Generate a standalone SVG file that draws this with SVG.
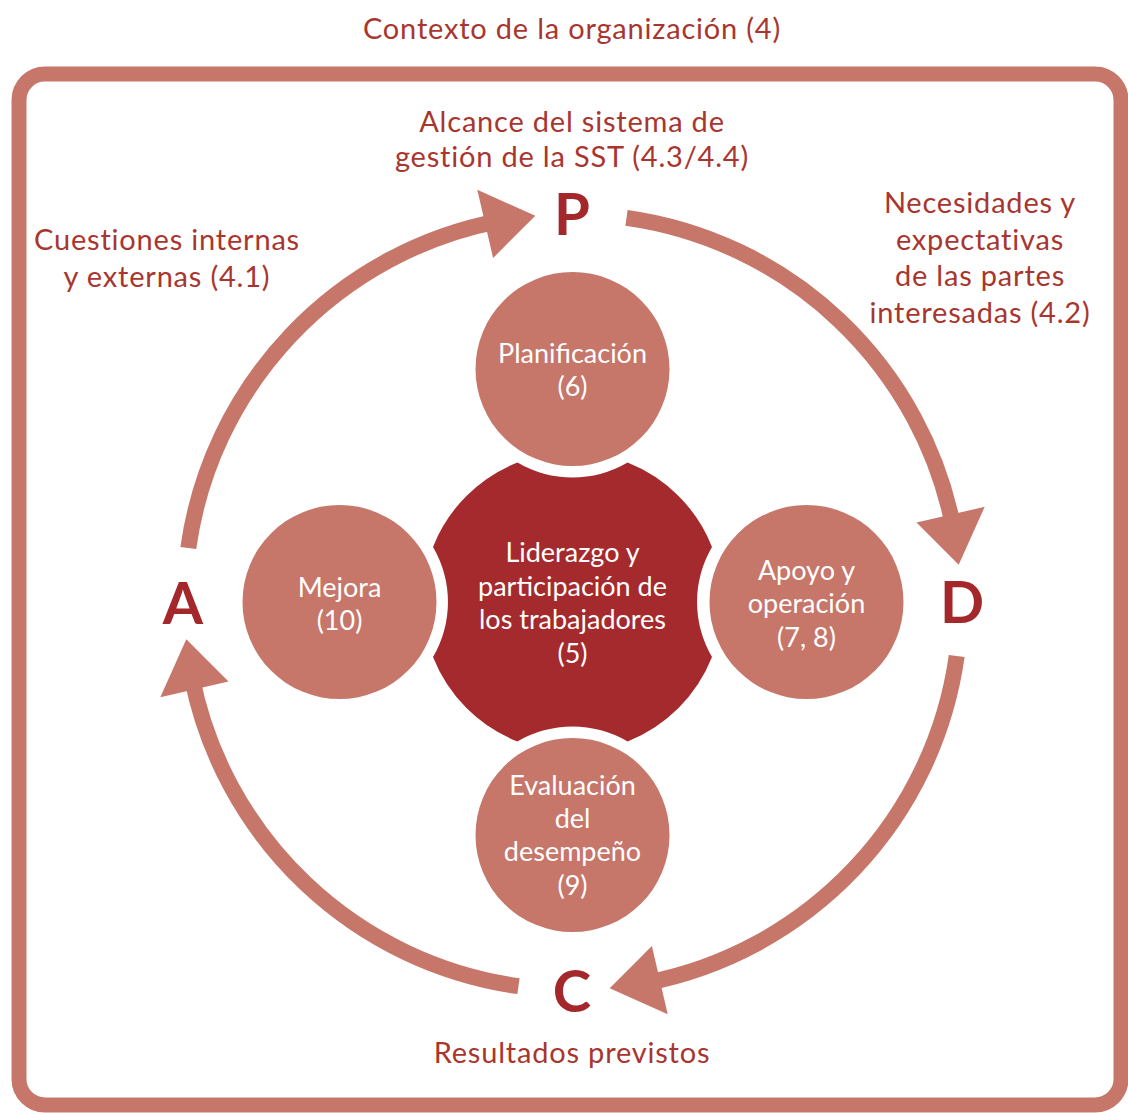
<svg xmlns="http://www.w3.org/2000/svg" width="1128" height="1113" viewBox="0 0 1128 1113">
  <style>
    .lbl { font-family: Lato, "Liberation Sans", sans-serif; font-size: 29px; letter-spacing: 0.8px; fill: #A8362F; text-anchor: middle; }
    .big { font-family: Lato, "Liberation Sans", sans-serif; font-size: 58px; font-weight: bold; fill: #A4282B; text-anchor: middle; }
    .ntx { font-family: Lato, "Liberation Sans", sans-serif; font-size: 27px; fill: #FFFFFF; text-anchor: middle; }
    .node { fill: #C7766A; }
    .arc { fill: none; stroke: #C7766A; stroke-width: 16; }
    .head { fill: #C7766A; }
  </style>
  <rect x="0" y="0" width="1128" height="1113" fill="#FFFFFF"/>
  <rect id="frame" x="19" y="74" width="1102" height="1031" rx="26" ry="26" fill="none" stroke="#C7766A" stroke-width="15"/>

  <text class="lbl" x="572" y="39">Contexto de la organización (4)</text>
  <text class="lbl" x="572" y="132">Alcance del sistema de</text>
  <text class="lbl" x="572" y="167">gestión de la SST (4.3/4.4)</text>
  <text class="lbl" x="167" y="250">Cuestiones internas</text>
  <text class="lbl" x="167" y="287">y externas (4.1)</text>
  <text class="lbl" x="980" y="213">Necesidades y</text>
  <text class="lbl" x="980" y="250">expectativas</text>
  <text class="lbl" x="980" y="286">de las partes</text>
  <text class="lbl" x="980" y="323">interesadas (4.2)</text>
  <text class="lbl" x="572" y="1063">Resultados previstos</text>

  <g id="connectors">
    <path class="arc" d="M188.3,548 A388,388 0 0 1 498.5,221.1"/>
    <polygon class="head" points="477.3,189.8 535.3,215.8 493.1,258"/>
    <path class="arc" d="M626.5,217.8 A388,388 0 0 1 953.4,528"/>
    <polygon class="head" points="984.7,506.8 958.7,564.8 916.5,522.6"/>
    <path class="arc" d="M956.7,656 A388,388 0 0 1 646.5,982.9"/>
    <polygon class="head" points="667.7,1014.2 609.7,988.2 651.9,946"/>
    <path class="arc" d="M518.5,986.2 A388,388 0 0 1 191.6,676"/>
    <polygon class="head" points="160.3,697.2 186.3,639.2 228.5,681.4"/>
  </g>

  <g id="phase-P"><text class="big" x="572" y="235">P</text></g>
  <g id="phase-D"><text class="big" x="962" y="623">D</text></g>
  <g id="phase-C"><text class="big" x="572" y="1012">C</text></g>
  <g id="phase-A"><text class="big" x="183" y="624">A</text></g>

  <g id="liderazgo">
    <path fill="#A52A2D" d="M517.4,462.5 A109,109 0 0 0 627.6,462.5 A150,150 0 0 1 712,546.9 A109,109 0 0 0 712,657.1 A150,150 0 0 1 627.6,741.5 A109,109 0 0 0 517.4,741.5 A150,150 0 0 1 433,657.1 A109,109 0 0 0 433,546.9 A150,150 0 0 1 517.4,462.5 Z"/>
    <text class="ntx" x="572.5" y="562">Liderazgo y</text>
    <text class="ntx" x="572.5" y="596">participación de</text>
    <text class="ntx" x="572.5" y="629">los trabajadores</text>
    <text class="ntx" x="572.5" y="663">(5)</text>
  </g>

  <g id="planificacion">
    <circle class="node" cx="572.5" cy="369" r="97"/>
    <text class="ntx" x="572.5" y="363">Planificación</text>
    <text class="ntx" x="572.5" y="396">(6)</text>
  </g>

  <g id="mejora">
    <circle class="node" cx="339.5" cy="602" r="97"/>
    <text class="ntx" x="339.5" y="597">Mejora</text>
    <text class="ntx" x="339.5" y="630">(10)</text>
  </g>

  <g id="apoyo">
    <circle class="node" cx="806.5" cy="602" r="97"/>
    <text class="ntx" x="806.5" y="580">Apoyo y</text>
    <text class="ntx" x="806.5" y="613">operación</text>
    <text class="ntx" x="806.5" y="647">(7, 8)</text>
  </g>

  <g id="evaluacion">
    <circle class="node" cx="572.5" cy="835" r="97"/>
    <text class="ntx" x="572.5" y="795">Evaluación</text>
    <text class="ntx" x="572.5" y="828">del</text>
    <text class="ntx" x="572.5" y="861">desempeño</text>
    <text class="ntx" x="572.5" y="895">(9)</text>
  </g>
</svg>
